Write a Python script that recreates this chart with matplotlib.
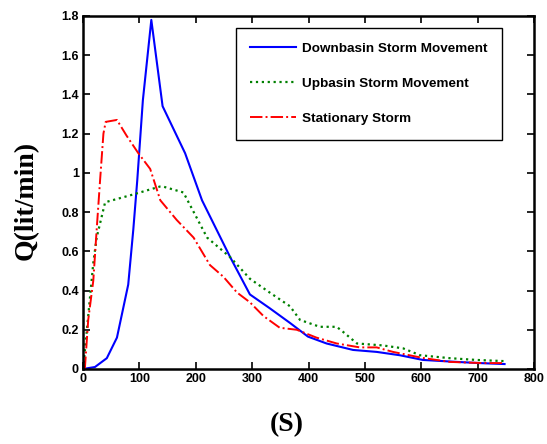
import matplotlib.pyplot as plt

# time (s) and discharge Q (lit/min)
down_t = [0, 21, 42, 60, 80, 89, 96, 106, 121, 141, 181, 211, 261, 296, 331, 367,
          399, 432, 479, 521, 562, 603, 663, 704, 748]
down_q = [0.0, 0.01, 0.055, 0.16, 0.43, 0.71, 0.96, 1.37, 1.78, 1.34, 1.10, 0.86,
          0.57, 0.38, 0.31, 0.235, 0.165, 0.13, 0.097, 0.087, 0.07, 0.046, 0.036,
          0.03, 0.025]

up_t = [0, 10, 18, 24, 39, 89, 136, 142, 178, 220, 261, 296, 331, 367, 385, 420,
        450, 461, 486, 532, 568, 598, 651, 698, 748]
up_q = [0.0, 0.3, 0.54, 0.67, 0.85, 0.89, 0.93, 0.93, 0.90, 0.67, 0.57, 0.46,
        0.39, 0.32, 0.25, 0.215, 0.215, 0.19, 0.13, 0.12, 0.105, 0.07, 0.055,
        0.046, 0.04]

stat_t = [3, 9, 18, 24, 30, 36, 40, 60, 77, 98, 119, 137, 166, 196, 225, 249,
          273, 296, 320, 349, 379, 414, 450, 491, 521, 550, 603, 651, 709, 748]
stat_q = [0.0, 0.25, 0.45, 0.71, 0.96, 1.2, 1.26, 1.27, 1.19, 1.10, 1.02, 0.86,
          0.76, 0.67, 0.53, 0.47, 0.39, 0.34, 0.27, 0.21, 0.20, 0.16, 0.13, 0.11,
          0.11, 0.087, 0.056, 0.036, 0.03, 0.03]

labels = ['Downbasin Storm Movement', 'Upbasin Storm Movement', 'Stationary Storm']

fig = plt.figure(figsize=(5.47, 4.44), dpi=100)
ax = fig.add_axes([0.152, 0.169, 0.824, 0.795])

ax.plot(down_t, down_q, color='#0000ff', lw=1.5, ls='-', label=labels[0])
ax.plot(up_t, up_q, color='#008000', lw=1.6, ls=':', label=labels[1])
ax.plot(stat_t, stat_q, color='#ff0000', lw=1.4, ls='-.', label=labels[2])

ax.set_xlim(0, 800)
ax.set_ylim(0, 1.8)
ax.set_xticks(range(0, 801, 100))
ax.set_yticks([0, 0.2, 0.4, 0.6, 0.8, 1, 1.2, 1.4, 1.6, 1.8])
ax.set_yticklabels(['0', '0.2', '0.4', '0.6', '0.8', '1', '1.2', '1.4', '1.6', '1.8'])

ax.tick_params(direction='in', top=True, right=True, length=5, width=1.2,
               labelsize=9, pad=3)
for lab in ax.get_xticklabels() + ax.get_yticklabels():
    lab.set_fontweight('bold')
    lab.set_family('Liberation Sans')
for s in ['top', 'bottom', 'left', 'right']:
    ax.spines[s].set_linewidth(1.8)

ax.set_ylabel('Q(lit/min)', fontsize=20, fontweight='bold',
              family='Liberation Serif')
ax.yaxis.set_label_coords(-0.098, 0.478)
ax.set_xlabel('(S)', fontsize=20, fontweight='bold',
              family='Liberation Serif')
ax.xaxis.set_label_coords(0.452, -0.121)

leg = ax.legend(loc='upper right', bbox_to_anchor=(0.929, 0.967),
                borderaxespad=0, fancybox=False,
                edgecolor='black', framealpha=1, handlelength=3.4,
                labelspacing=1.68, borderpad=1.1, handletextpad=0.4,
                prop={'family': 'Liberation Sans', 'weight': 'bold', 'size': 9.7})
leg.get_frame().set_linewidth(1.0)

fig.savefig('out.png', dpi=100)
